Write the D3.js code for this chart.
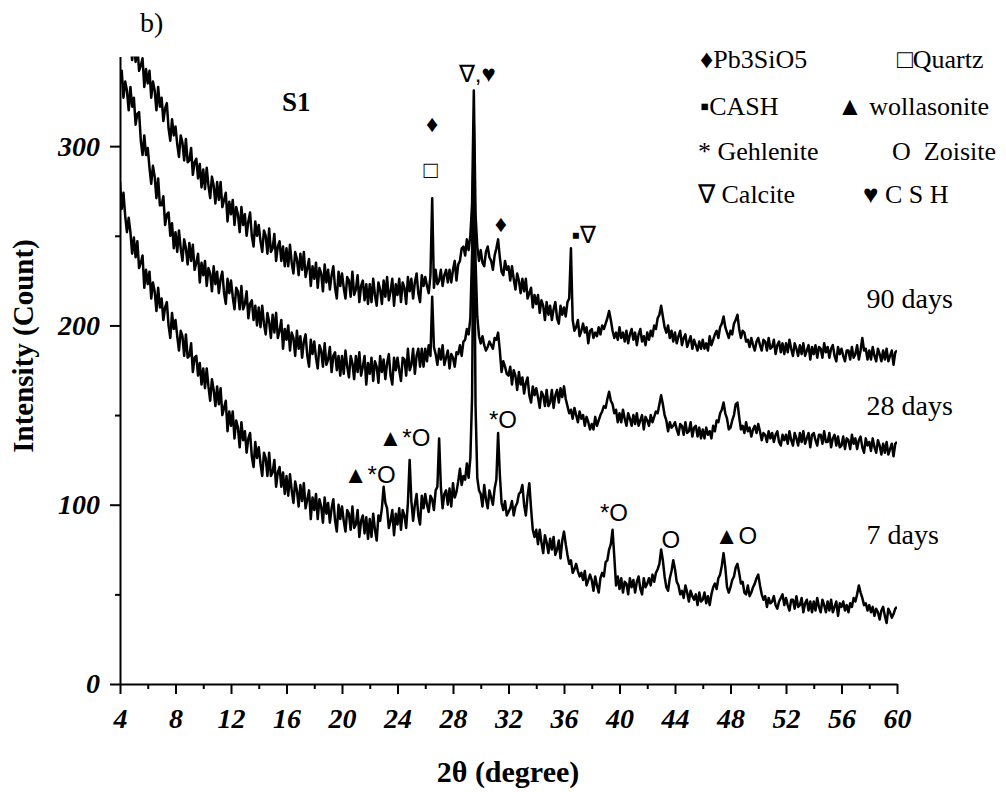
<!DOCTYPE html>
<html>
<head>
<meta charset="utf-8">
<script src="https://cdn.jsdelivr.net/npm/d3@7"></script>
<style>
  body { margin: 0; background: #fff; }
  svg text { font-family: "Liberation Serif", "Times New Roman", serif; fill: #000; }
  .trace { fill: none; stroke: #000; stroke-width: 2.5; stroke-linejoin: round; }
  .axis path, .axis line { stroke: #000; stroke-width: 2; }
  .axis text { font-size: 28px; font-weight: bold; font-style: italic; }
  .mark { font-family: "Liberation Sans", Arial, sans-serif !important; font-size: 24px; }
</style>
</head>
<body>
<div id="chart"></div>
<script>
(function () {

  // scan angles, 0.125 degree steps from 4 to 60
  const twoTheta = d3.range(4, 60.001, 0.125);

  // counts, 16 values per 2 degrees
  const days90 = [
    376, 364, 374, 362, 354, 365, 358, 348, 358, 347, 356, 342, 345, 349, 333, 343,
    335, 342, 327, 336, 331, 320, 333, 322, 327, 314, 321, 324, 310, 303, 315, 306,
    311, 301, 294, 306, 302, 292, 304, 291, 292, 299, 284, 291, 293, 282, 290, 277,
    287, 276, 288, 278, 271, 283, 278, 268, 280, 270, 280, 266, 270, 274, 258, 269,
    262, 270, 256, 266, 262, 252, 266, 256, 262, 250, 258, 263, 250, 244, 258, 250,
    256, 247, 241, 253, 250, 240, 254, 241, 243, 251, 236, 244, 247, 236, 244, 233,
    243, 233, 245, 235, 229, 241, 237, 228, 240, 231, 241, 227, 232, 237, 222, 233,
    226, 235, 221, 232, 229, 219, 234, 224, 231, 220, 228, 233, 221, 215, 230, 222,
    229, 221, 215, 227, 225, 216, 230, 217, 220, 228, 213, 222, 225, 214, 223, 212,
    223, 213, 226, 217, 211, 224, 220, 212, 225, 216, 227, 214, 219, 226, 211, 223,
    217, 226, 213, 224, 221, 212, 227, 219, 226, 215, 224, 229, 218, 213, 228, 222,
    227, 222, 218, 228, 271, 221, 231, 223, 225, 231, 222, 228, 231, 224, 231, 224,
    231, 236, 225, 234, 236, 243, 244, 239, 248, 242, 250, 268, 331, 262, 244, 236,
    242, 235, 233, 241, 244, 238, 236, 231, 239, 243, 248, 238, 230, 228, 236, 231,
    233, 225, 233, 226, 220, 229, 225, 218, 226, 219, 226, 215, 218, 221, 210, 217,
    212, 217, 207, 214, 211, 203, 213, 206, 211, 203, 209, 213, 204, 201, 211, 206,
    210, 205, 213, 215, 243, 203, 197, 199, 203, 194, 197, 201, 196, 199, 190, 197,
    198, 193, 196, 194, 199, 195, 200, 198, 201, 204, 208, 203, 197, 193, 196, 192,
    199, 193, 196, 191, 197, 190, 195, 198, 192, 196, 189, 195, 198, 191, 194, 189,
    196, 192, 197, 194, 200, 198, 204, 206, 211, 205, 199, 196, 200, 193, 197, 191,
    196, 190, 194, 197, 189, 193, 195, 188, 191, 194, 187, 192, 189, 186, 191, 187,
    192, 187, 190, 186, 194, 189, 192, 195, 197, 193, 199, 201, 205, 199, 196, 193,
    197, 195, 201, 203, 206, 198, 193, 197, 196, 191, 192, 188, 193, 189, 186, 191,
    193, 189, 186, 192, 191, 186, 193, 187, 188, 192, 184, 189, 191, 185, 190, 184,
    190, 185, 192, 187, 183, 190, 187, 183, 189, 184, 190, 183, 186, 189, 181, 188,
    184, 189, 182, 188, 187, 182, 190, 185, 188, 182, 187, 189, 183, 180, 188, 184,
    187, 183, 180, 186, 186, 181, 188, 182, 184, 189, 181, 186, 193, 186, 187, 181,
    186, 181, 188, 183, 180, 187, 184, 180, 186, 181, 187, 180, 183, 186, 178, 185,
    186
  ];

  const days28 = [
    335, 342, 327, 336, 331, 320, 333, 322, 327, 312, 318, 319, 303, 295, 306, 295,
    299, 288, 279, 289, 283, 271, 282, 267, 267, 272, 256, 262, 263, 250, 257, 243,
    252, 241, 253, 243, 236, 248, 243, 234, 246, 236, 245, 231, 235, 240, 224, 235,
    228, 236, 222, 232, 229, 219, 233, 223, 230, 218, 226, 230, 218, 212, 226, 218,
    225, 216, 209, 221, 219, 209, 222, 209, 212, 219, 204, 212, 214, 203, 211, 200,
    210, 199, 211, 201, 195, 207, 202, 193, 206, 196, 207, 193, 197, 203, 187, 198,
    192, 200, 186, 196, 193, 183, 197, 187, 194, 182, 191, 195, 183, 177, 192, 184,
    191, 182, 176, 189, 186, 177, 190, 178, 181, 188, 174, 183, 185, 175, 183, 172,
    183, 173, 186, 177, 171, 183, 179, 170, 183, 174, 185, 172, 177, 183, 167, 179,
    173, 182, 169, 180, 177, 168, 183, 174, 181, 170, 179, 184, 172, 167, 182, 175,
    182, 175, 169, 182, 181, 172, 187, 175, 178, 187, 173, 183, 187, 177, 187, 177,
    187, 180, 189, 183, 216, 188, 184, 178, 187, 181, 189, 178, 182, 186, 176, 184,
    182, 177, 185, 184, 189, 183, 191, 192, 198, 195, 204, 240, 312, 236, 205, 194,
    190, 194, 189, 186, 188, 191, 189, 187, 193, 192, 196, 186, 174, 180, 177, 173,
    172, 177, 167, 175, 172, 164, 174, 167, 171, 162, 168, 171, 161, 157, 166, 161,
    165, 160, 154, 163, 161, 155, 164, 155, 157, 164, 154, 161, 164, 157, 165, 160,
    166, 159, 155, 151, 153, 148, 154, 150, 146, 152, 148, 150, 144, 149, 146, 142,
    145, 142, 149, 144, 147, 150, 152, 155, 154, 159, 163, 158, 156, 151, 153, 146,
    151, 146, 153, 148, 144, 151, 148, 144, 150, 145, 151, 144, 147, 150, 142, 149,
    147, 144, 150, 146, 149, 152, 151, 156, 161, 156, 150, 147, 141, 146, 143, 144,
    146, 142, 139, 145, 144, 139, 146, 140, 141, 146, 138, 143, 144, 138, 143, 137,
    142, 137, 143, 139, 141, 137, 144, 141, 147, 146, 151, 153, 157, 151, 148, 142,
    143, 147, 150, 156, 157, 149, 142, 144, 140, 146, 141, 143, 138, 142, 144, 140,
    145, 141, 136, 140, 139, 135, 141, 137, 140, 135, 139, 141, 135, 133, 139, 136,
    139, 134, 141, 136, 133, 140, 137, 133, 140, 135, 141, 134, 137, 140, 132, 139,
    140, 136, 133, 139, 139, 134, 141, 135, 135, 140, 132, 137, 139, 133, 138, 132,
    133, 138, 131, 137, 136, 131, 139, 134, 137, 131, 136, 138, 132, 129, 137, 133,
    135, 130, 137, 132, 129, 136, 133, 128, 134, 129, 135, 128, 131, 134, 127, 134,
    135
  ];

  const days7 = [
    280, 265, 274, 261, 252, 260, 252, 240, 249, 238, 247, 232, 235, 239, 221, 231,
    223, 230, 215, 224, 219, 208, 221, 210, 215, 203, 210, 213, 200, 193, 207, 198,
    203, 194, 186, 197, 194, 183, 195, 182, 183, 190, 174, 182, 183, 172, 179, 167,
    176, 165, 176, 166, 158, 170, 164, 155, 166, 156, 165, 150, 154, 158, 141, 152,
    144, 152, 137, 147, 143, 132, 146, 136, 141, 129, 137, 140, 127, 121, 135, 126,
    132, 123, 116, 129, 126, 116, 129, 116, 118, 125, 110, 118, 121, 110, 118, 106,
    116, 105, 117, 108, 101, 113, 108, 99, 111, 102, 112, 98, 103, 108, 92, 104,
    97, 106, 92, 103, 99, 90, 104, 95, 101, 90, 98, 103, 91, 85, 100, 92,
    99, 91, 85, 97, 95, 86, 99, 87, 89, 97, 82, 91, 94, 84, 93, 81,
    92, 82, 95, 86, 80, 94, 91, 98, 110, 101, 98, 87, 91, 97, 83, 95,
    89, 98, 86, 97, 94, 87, 101, 125, 102, 91, 100, 106, 94, 89, 105, 98,
    106, 100, 96, 105, 103, 97, 108, 110, 137, 110, 98, 106, 108, 100, 109, 99,
    112, 104, 107, 113, 120, 111, 116, 114, 123, 115, 126, 160, 290, 155, 115, 108,
    106, 99, 111, 103, 98, 108, 104, 100, 109, 114, 140, 117, 101, 97, 102, 94,
    96, 98, 102, 94, 99, 101, 106, 107, 111, 100, 94, 105, 112, 98, 86, 82,
    86, 78, 86, 79, 73, 83, 79, 73, 81, 75, 82, 72, 75, 80, 70, 80,
    85, 78, 72, 67, 69, 62, 64, 67, 63, 60, 62, 58, 63, 55, 58, 61,
    58, 52, 60, 55, 51, 59, 62, 60, 68, 69, 75, 78, 86, 71, 55, 60,
    53, 59, 51, 57, 56, 50, 59, 54, 58, 51, 57, 60, 53, 50, 59, 54,
    56, 59, 55, 61, 57, 62, 64, 67, 75, 69, 60, 54, 52, 59, 63, 69,
    64, 57, 55, 50, 52, 48, 55, 51, 46, 52, 49, 47, 50, 44, 51, 46,
    47, 51, 45, 49, 44, 50, 54, 56, 53, 59, 61, 66, 73, 65, 54, 51,
    54, 58, 60, 65, 67, 62, 56, 57, 51, 50, 55, 49, 51, 54, 56, 59,
    61, 55, 50, 47, 49, 43, 48, 45, 46, 49, 44, 42, 46, 48, 50, 44,
    48, 44, 41, 47, 47, 42, 49, 43, 44, 48, 40, 45, 47, 41, 46, 40,
    46, 41, 48, 43, 40, 47, 44, 40, 46, 41, 47, 40, 43, 46, 38, 45,
    43, 46, 41, 44, 40, 45, 43, 48, 46, 50, 55, 51, 48, 44, 45, 41,
    44, 40, 43, 38, 42, 40, 36, 41, 43, 38, 34, 42, 40, 37, 39, 42,
    43
  ];

  const seriesNames = ['90 days', '28 days', '7 days'];
  const xTickValues = d3.range(4, 61, 4);
  const xMinorValues = d3.range(6, 60, 4);
  const yTickValues = [0, 100, 200, 300];
  const yMinorValues = [50, 150, 250];

  // phase marks drawn over the peaks: [text, 2theta, counts]
  const peakMarks = [
    ['\u2666', 26.5, 308],
    ['\u25A1', 26.4, 282],
    ['\u2207,\u2665', 29.75, 336],
    ['\u2666', 31.45, 252],
    ['\u25AA\u2207', 37.45, 246],
    ['\u25B2*O', 24.5, 133],
    ['\u25B2*O', 22.0, 112],
    ['*O', 31.6, 143],
    ['*O', 39.6, 91],
    ['O', 43.7, 76],
    ['\u25B2O', 48.4, 78]
  ];

  // where each trace name sits: [2theta, counts]
  const nameSpots = [[57.8, 210], [57.8, 150], [57.8, 78]];

  const width = 1006;
  const height = 792;
  const margin = { top: 56.5, right: 109, bottom: 108, left: 120 };

  const svg = d3.select('#chart')
    .append('svg')
    .attr('width', width)
    .attr('height', height);

  const x = d3.scaleLinear()
    .domain([4, 60])
    .range([margin.left, width - margin.right]);

  const y = d3.scaleLinear()
    .domain([0, 350])
    .range([height - margin.bottom, margin.top]);

  // keep the traces inside the frame
  svg.append('clipPath').attr('id', 'plot-clip')
    .append('rect')
    .attr('x', margin.left)
    .attr('y', margin.top)
    .attr('width', width - margin.left - margin.right)
    .attr('height', height - margin.top - margin.bottom);

  const line = d3.line()
    .x((d, i) => x(twoTheta[i]))
    .y(d => y(d));

  svg.append('g')
    .attr('clip-path', 'url(#plot-clip)')
    .selectAll('path')
    .data([days90, days28, days7])
    .join('path')
    .attr('class', 'trace')
    .attr('d', line);

  // x axis, major + minor ticks
  const xAxis = svg.append('g')
    .attr('class', 'axis')
    .attr('transform', `translate(0,${y(0)})`)
    .call(d3.axisBottom(x).tickValues(xTickValues).tickSize(10).tickSizeOuter(0).tickPadding(10));
  xAxis.selectAll('text').attr('dy', '0.86em');

  svg.append('g')
    .attr('class', 'axis')
    .attr('transform', `translate(0,${y(0)})`)
    .call(d3.axisBottom(x).tickValues(xMinorValues).tickSize(5).tickFormat(''))
    .select('.domain').remove();

  svg.append('g')
    .attr('class', 'axis')
    .attr('transform', `translate(${x(4)},0)`)
    .call(d3.axisLeft(y).tickValues(yTickValues).tickSize(10).tickSizeOuter(0).tickPadding(10));

  svg.append('g')
    .attr('class', 'axis')
    .attr('transform', `translate(${x(4)},0)`)
    .call(d3.axisLeft(y).tickValues(yMinorValues).tickSize(5).tickFormat(''))
    .select('.domain').remove();

  // axis titles
  svg.append('text')
    .attr('x', 508)
    .attr('y', 782)
    .attr('text-anchor', 'middle')
    .style('font-size', '30px')
    .style('font-weight', 'bold')
    .text('2\u03B8 (degree)');

  svg.append('text')
    .attr('transform', 'translate(33,346) rotate(-90)')
    .attr('text-anchor', 'middle')
    .style('font-size', '29px')
    .style('font-weight', 'bold')
    .text('Intensity (Count)');

  // panel letter and sample name
  svg.append('text')
    .attr('x', 140).attr('y', 32)
    .style('font-size', '28px')
    .text('b)');

  svg.append('text')
    .attr('x', 282).attr('y', 111)
    .style('font-size', '27px')
    .style('font-weight', 'bold')
    .text('S1');

  // peak identification marks
  svg.append('g')
    .selectAll('text')
    .data(peakMarks)
    .join('text')
    .attr('class', 'mark')
    .attr('x', d => x(d[1]))
    .attr('y', d => y(d[2]))
    .attr('text-anchor', 'middle')
    .text(d => d[0]);

  // trace names
  svg.append('g')
    .selectAll('text')
    .data(seriesNames)
    .join('text')
    .attr('x', (d, i) => x(nameSpots[i][0]))
    .attr('y', (d, i) => y(nameSpots[i][1]))
    .style('font-size', '28px')
    .text(d => d);

  // legend of phases
  const legendRows = [
    ['\u2666Pb3SiO5', 700, 68], ['\u25A1Quartz', 897, 68],
    ['\u25AACASH', 700, 115], ['\u25B2 wollasonite', 837, 115],
    ['* Gehlenite', 698, 160], ['O  Zoisite', 892, 160],
    ['\u2207 Calcite', 698, 203], ['\u2665 C S H', 863, 203]
  ];

  svg.append('g')
    .selectAll('text')
    .data(legendRows)
    .join('text')
    .attr('x', d => d[1])
    .attr('y', d => d[2])
    .style('font-size', '26px')
    .style('white-space', 'pre')
    .text(d => d[0]);

})();
</script>
</body>
</html>
